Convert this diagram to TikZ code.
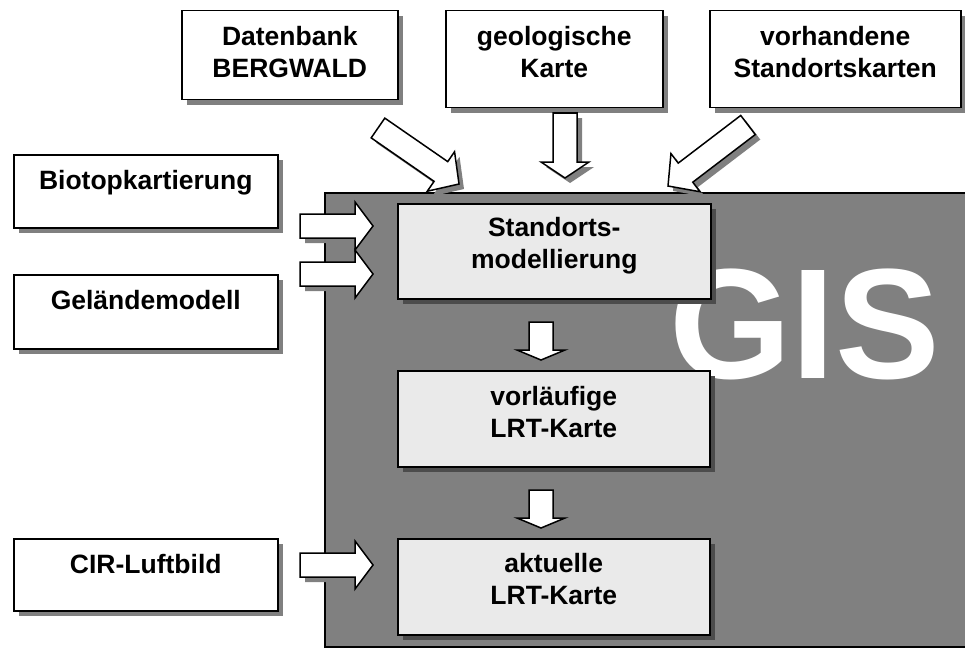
\documentclass[tikz,border=0pt]{standalone}
\usepackage{fontspec}
\setmainfont{Liberation Sans}
\usetikzlibrary{calc, shadows}
\definecolor{boxgray}{RGB}{234,234,234}
\definecolor{gisgray}{RGB}{128,128,128}
\tikzset{srcbox/.style = {shape = rectangle, draw, fill = white, line width = 1.5pt, inner sep = 0pt, anchor = north west,
		font = \bfseries\fontsize{26.5}{32}\selectfont,
		drop shadow = {shadow xshift = 5pt, shadow yshift = -5pt, fill = gisgray, opacity = 1}}}
\tikzset{stepbox/.style = {srcbox, fill = boxgray,
		drop shadow = {shadow xshift = 5pt, shadow yshift = -5pt, fill = black!70, opacity = 1}}}
\tikzset{gisarea/.style = {draw, fill = gisgray, line width = 1.5pt}}
\tikzset{gislabel/.style = {text = white, inner sep = 0pt, font = \bfseries\fontsize{157}{157}\selectfont}}
\tikzset{blk/.style = {fill = white, draw = black, line width = 1.5pt, line join = miter}}
\newcommand{\boxtxt}[4][35pt]{\parbox[t][#3][t]{#2}{\centering\rule{0pt}{#1}#4}}
\newcommand{\arrowpath}[3]{($(#2)!12pt!90:(#3)$) -- ($(#3)!#1!(#2)!12pt!-90:(#2)$) -- ($(#3)!#1!(#2)!24pt!-90:(#2)$) -- (#3) -- ($(#3)!#1!(#2)!24pt!90:(#2)$) -- ($(#3)!#1!(#2)!12pt!90:(#2)$) -- ($(#2)!12pt!-90:(#3)$) -- cycle}
\newcommand{\blkarrow}[3][18pt]{%
	\begin{scope}[transform canvas = {xshift = 5pt, yshift = -5pt}]
		\fill[gisgray] \arrowpath{#1}{#2}{#3};
	\end{scope}
	\filldraw[blk] \arrowpath{#1}{#2}{#3};}

\begin{document}
\begin{tikzpicture}[x = 1pt, y = -1pt]
	\useasboundingbox (0, 0) rectangle (965, 650);

	% GIS area
	\draw[gisarea] (325, 193) rectangle (975, 647);
	\node[gislabel, anchor = base east] (gis) at (940, 378) {GIS};

	% sources
	\node[srcbox] (datenbank) at (181, 10) {\boxtxt{216pt}{89pt}{Datenbank\\BERGWALD}};
	\node[srcbox] (geokarte) at (445, 10) {\boxtxt{217pt}{97pt}{geologische\\Karte}};
	\node[srcbox] (standkarten) at (709, 10) {\boxtxt{251pt}{97pt}{vorhandene\\Standortskarten}};
	\node[srcbox] (biotop) at (13, 154) {\boxtxt{264pt}{73pt}{Biotopkartierung}};
	\node[srcbox] (gelaende) at (13, 274) {\boxtxt{264pt}{74pt}{Geländemodell}};
	\node[srcbox] (cir) at (13, 538) {\boxtxt{264pt}{72pt}{CIR-Luftbild}};

	% steps
	\node[stepbox] (modell) at (397, 203) {\boxtxt[33pt]{313pt}{95pt}{Standorts-\\modellierung}};
	\node[stepbox] (vorlkarte) at (397, 370) {\boxtxt[35pt]{312pt}{96pt}{vorläufige\\LRT-Karte}};
	\node[stepbox] (aktkarte) at (397, 538) {\boxtxt[34pt]{312pt}{96pt}{aktuelle\\LRT-Karte}};

	% arrow ends
	\coordinate (dbtail) at (378, 128);
	\coordinate (dbtip) at (459, 184);
	\coordinate (geotail) at (565, 113);
	\coordinate (geotip) at (565, 178);
	\coordinate (sktail) at (748, 125);
	\coordinate (sktip) at (668, 186);
	\coordinate (bttail) at (300, 226);
	\coordinate (bttip) at (373, 226);
	\coordinate (gmtail) at (300, 274);
	\coordinate (gmtip) at (373, 274);
	\coordinate (cirtail) at (300, 565);
	\coordinate (cirtip) at (373, 565);
	\coordinate (m1tail) at (541, 322);
	\coordinate (m1tip) at (541, 360);
	\coordinate (m2tail) at (541, 490);
	\coordinate (m2tip) at (541, 528);

	\blkarrow[22pt]{dbtail}{dbtip}
	\blkarrow[16pt]{geotail}{geotip}
	\blkarrow[22pt]{sktail}{sktip}
	\blkarrow{bttail}{bttip}
	\blkarrow{gmtail}{gmtip}
	\blkarrow{cirtail}{cirtip}
	\blkarrow[10pt]{m1tail}{m1tip}
	\blkarrow[10pt]{m2tail}{m2tip}
\end{tikzpicture}
\end{document}
